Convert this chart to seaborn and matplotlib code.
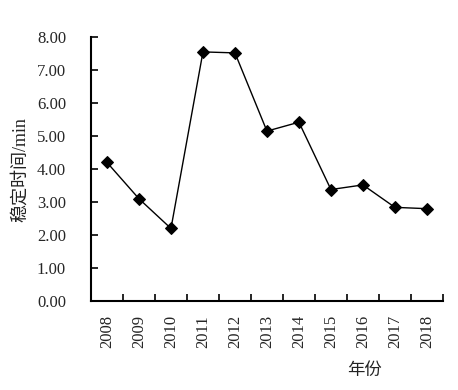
import numpy as np
import pandas as pd
import seaborn as sns
import matplotlib.pyplot as plt
from matplotlib.ticker import FixedLocator

years = ["2008", "2009", "2010", "2011", "2012", "2013", "2014", "2015", "2016", "2017", "2018"]
minutes = [4.20, 3.10, 2.20, 7.55, 7.52, 5.15, 5.42, 3.38, 3.52, 2.84, 2.80]

df = pd.DataFrame({"year": years, "minutes": minutes})
df["pos"] = np.arange(len(years))

sns.set_style("white")
plt.rcParams["font.family"] = ["Liberation Serif", "Noto Sans CJK SC"]

fig = plt.figure(figsize=(4.58, 3.90), dpi=100)
ax = fig.add_axes([0.1987, 0.228, 0.7683, 0.677])

sns.lineplot(data=df, x="pos", y="minutes", color="black", linewidth=1.0,
             marker="D", markersize=6, markeredgecolor="black", ax=ax)

ax.set_xlim(-0.5, len(years) - 0.5)
ax.set_ylim(0, 8)
ax.set_yticks(np.arange(0, 9, 1))
ax.set_yticklabels([f"{v:.2f}" for v in np.arange(0, 9, 1)], fontsize=12)

ax.set_xticks(df["pos"])
ax.set_xticklabels(years, rotation=90, fontsize=12)
ax.xaxis.set_minor_locator(FixedLocator(np.arange(-0.5, len(years), 1)))
ax.tick_params(axis="x", which="major", length=0, pad=10)
ax.tick_params(axis="x", which="minor", length=5, width=1.2, direction="in", color="black", bottom=True)
ax.tick_params(axis="y", length=5, width=1.2, direction="in", color="black", left=True, pad=18)

for side in ["top", "right"]:
    ax.spines[side].set_visible(False)
for side in ["left", "bottom"]:
    ax.spines[side].set_color("black")
    ax.spines[side].set_linewidth(1.5)

ax.set_xlabel("")
ax.set_ylabel("")
fig.text(0.795, 0.05, "年份", fontsize=12.5, ha="center", va="center", color="#222222")
fig.text(0.044, 0.564, "稳定时间/min", fontsize=13, rotation=90, ha="center", va="center", color="#222222")

fig.savefig("out.png", dpi=100)
